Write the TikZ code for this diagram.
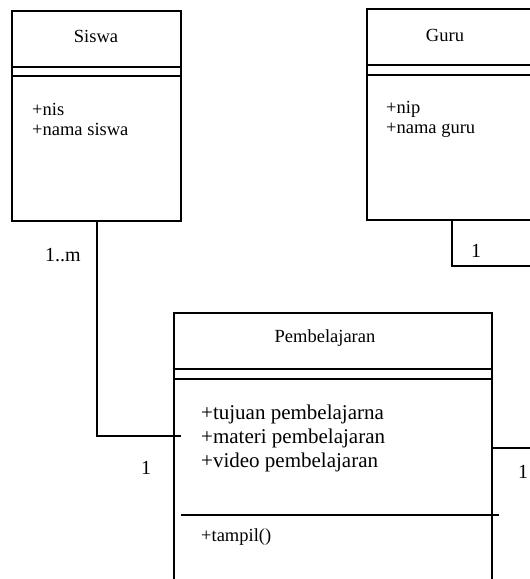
\documentclass[tikz,border=0pt]{standalone}
\usepackage{fontspec}
\setmainfont{Liberation Serif}

\begin{document}
\begin{tikzpicture}[x=1pt,y=-1pt,
  classbox/.style={draw, line width=2pt, inner sep=0pt},
  title/.style={inner sep=0pt, anchor=base, font=\fontsize{18.5}{22}\selectfont},
  attr/.style={inner sep=0pt, anchor=base west, font=\fontsize{18.5}{22}\selectfont},
  bigattr/.style={inner sep=0pt, anchor=base west, font=\fontsize{21}{24}\selectfont},
  mult/.style={inner sep=0pt, anchor=base, font=\fontsize{20}{24}\selectfont},
  conn/.style={line width=2pt}]

\clip (0,0) rectangle (530,579);

% Class boxes
\node[classbox, minimum width=169pt, minimum height=210pt] (siswa) at (96.5,116) {};
\node[classbox, minimum width=169pt, minimum height=211pt] (guru) at (451.5,114.5) {};
\node[classbox, minimum width=318.5pt, minimum height=327pt] (belajar) at (332.75,476.5) {};

% Compartment lines
\draw[line width=2pt] (siswa.west |- 0,67) -- (siswa.east |- 0,67);
\draw[line width=1.4pt] (siswa.west |- 0,76) -- (siswa.east |- 0,76);
\draw[line width=2pt] (guru.west |- 0,65) -- (guru.east |- 0,65);
\draw[line width=1.4pt] (guru.west |- 0,75) -- (guru.east |- 0,75);
\draw[line width=2pt] (belajar.west |- 0,369) -- (belajar.east |- 0,369);
\draw[line width=1.4pt] (belajar.west |- 0,379) -- (belajar.east |- 0,379);
\draw[line width=2pt] (181,515) -- (499,515);

% Names
\node[title] (siswaName) at (96,42) {Siswa};
\node[title] (guruName) at (445,41) {Guru};
\node[title] (belajarName) at (325,342) {Pembelajaran};

% Attributes
\node[attr] (nis) at (32,115) {+nis};
\node[attr] (namaSiswa) at (32,135) {+nama siswa};
\node[attr] (nip) at (386,113) {+nip};
\node[attr] (namaGuru) at (386,133) {+nama guru};
\node[bigattr] (tujuan) at (201,419) {+tujuan pembelajarna};
\node[bigattr] (materi) at (201,443) {+materi pembelajaran};
\node[bigattr] (video) at (201,467) {+video pembelajaran};
\node[attr] (tampil) at (201,541) {+tampil()};

% Connectors
\coordinate (sEnd) at (181,436);
\coordinate (gEnd) at (540,266);
\coordinate (pEnd) at (540,448);
\draw[conn] (siswa.south) |- (sEnd);
\draw[conn] (guru.south) |- (gEnd);
\draw[conn] (belajar.east |- pEnd) -- (pEnd);

% Multiplicities
\node[mult] (mSiswa) at (63,261) {1..m};
\node[mult] (mBelajarL) at (146,474) {1};
\node[mult] (mGuru) at (476,257) {1};
\node[mult] (mBelajarR) at (523,478) {1};

\end{tikzpicture}
\end{document}
